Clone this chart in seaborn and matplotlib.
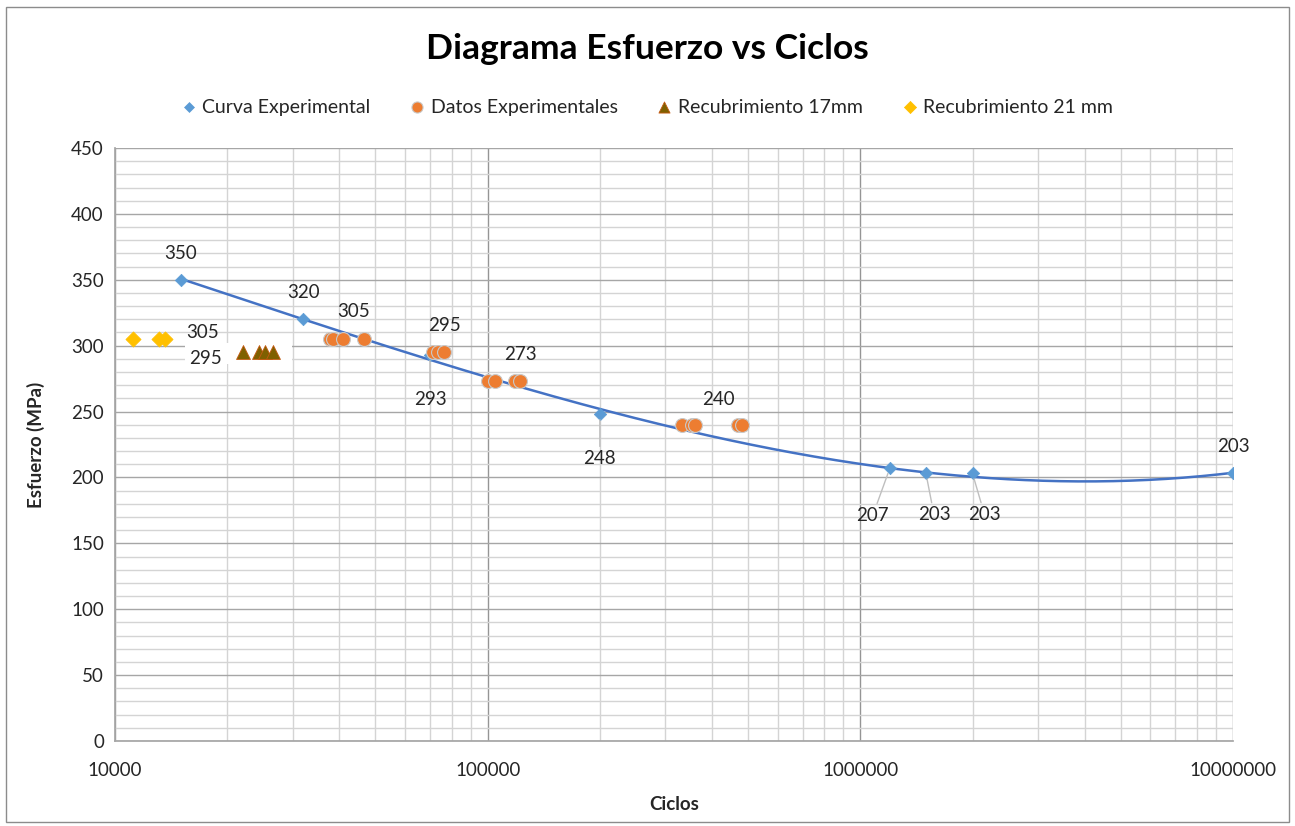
import numpy as np
import pandas as pd
import matplotlib
matplotlib.use("Agg")
import matplotlib.pyplot as plt
import seaborn as sns
from matplotlib.ticker import FixedLocator, LogLocator, NullFormatter, FuncFormatter
from matplotlib.patches import Rectangle

# --- data -----------------------------------------------------------------
curva_ciclos = [15000, 32000, 70000, 200000, 1200000, 1500000, 2000000, 10000000]
curva_esfuerzo = [350, 320, 293, 248, 207, 203, 203, 203]

datos_ciclos = [37800, 38400, 41000, 46600,
                71500, 73600, 76400,
                100400, 104600, 118400, 122100,
                331600, 352500, 359700, 470300, 480000]
datos_esfuerzo = [305, 305, 305, 305,
                  295, 295, 295,
                  273, 273, 273, 273,
                  240, 240, 240, 240, 240]

rec17_ciclos = [22000, 24300, 25300, 26500]
rec17_esfuerzo = [295, 295, 295, 295]

rec21_ciclos = [11200, 13100, 13600]
rec21_esfuerzo = [305, 305, 305]

titulo = "Diagrama Esfuerzo vs Ciclos"
etiqueta_x = "Ciclos"
etiqueta_y = "Esfuerzo (MPa)"
x_ticks = [10000, 100000, 1000000, 10000000]
y_ticks = [0, 50, 100, 150, 200, 250, 300, 350, 400, 450]

# --- style ----------------------------------------------------------------
sns.set_theme(style="white")
plt.rcParams["font.family"] = ["Lato", "DejaVu Sans"]

fig = plt.figure(figsize=(12.95, 8.26), dpi=100)
ax = fig.add_axes([115 / 1295, 1 - 741 / 826, (1233 - 115) / 1295, (741 - 148) / 826])

# outer frame of the chart
fig.patches.append(Rectangle((6 / 1295, 4 / 826), 1283 / 1295, 815 / 826,
                             transform=fig.transFigure, fill=False,
                             edgecolor="#8c8c8c", linewidth=1.0))

ax.set_xscale("log")
ax.set_xlim(10000, 10000000)
ax.set_ylim(0, 450)

# gridlines
ax.xaxis.set_major_locator(FixedLocator(x_ticks))
ax.xaxis.set_minor_locator(LogLocator(base=10, subs=np.arange(2, 10)))
ax.xaxis.set_minor_formatter(NullFormatter())
ax.xaxis.set_major_formatter(FuncFormatter(lambda v, p: f"{int(round(v))}"))
ax.yaxis.set_major_locator(FixedLocator(y_ticks))
ax.yaxis.set_minor_locator(FixedLocator(np.arange(0, 451, 10)))
ax.grid(which="major", axis="y", color="#a6a6a6", linewidth=1.0)
ax.grid(which="major", axis="x", color="#959595", linewidth=1.0)
ax.grid(which="minor", color="#d4d4d4", linewidth=1.0)
ax.set_axisbelow(True)
for side in ["top", "right"]:
    ax.spines[side].set_visible(False)
for side in ["left", "bottom"]:
    ax.spines[side].set_color("#a6a6a6")
ax.tick_params(axis="both", which="both", length=0, labelsize=13.5, colors="#262626")
ax.tick_params(axis="x", pad=15)
ax.tick_params(axis="y", pad=8)

# trend line (cubic in log10 of cycles)
coef = np.polyfit(np.log10(curva_ciclos), curva_esfuerzo, 3)
xs = np.logspace(np.log10(curva_ciclos[0]), np.log10(curva_ciclos[-1]), 300)
trend = pd.DataFrame({"ciclos": xs, "esfuerzo": np.polyval(coef, np.log10(xs))})
sns.lineplot(data=trend, x="ciclos", y="esfuerzo", ax=ax, color="#4472c4",
             linewidth=1.8, legend=False, zorder=3)

# series
curva = pd.DataFrame({"ciclos": curva_ciclos, "esfuerzo": curva_esfuerzo})
datos = pd.DataFrame({"ciclos": datos_ciclos, "esfuerzo": datos_esfuerzo})
r17 = pd.DataFrame({"ciclos": rec17_ciclos, "esfuerzo": rec17_esfuerzo})
r21 = pd.DataFrame({"ciclos": rec21_ciclos, "esfuerzo": rec21_esfuerzo})

sns.scatterplot(data=curva, x="ciclos", y="esfuerzo", ax=ax, marker="D", s=40,
                color="#5b9bd5", edgecolor="#5b9bd5", linewidth=0.5,
                label="Curva Experimental", zorder=4)
sns.scatterplot(data=datos, x="ciclos", y="esfuerzo", ax=ax, marker="o", s=100,
                color="#ed7d31", edgecolor="#c9c9c9", linewidth=0.8,
                label="Datos Experimentales", zorder=4)
sns.scatterplot(data=r17, x="ciclos", y="esfuerzo", ax=ax, marker="^", s=100,
                color="#7f6000", edgecolor="#c55a11", linewidth=0.6,
                label="Recubrimiento 17mm", zorder=4)
sns.scatterplot(data=r21, x="ciclos", y="esfuerzo", ax=ax, marker="D", s=60,
                color="#ffc000", edgecolor="#ffc000", linewidth=0.5,
                label="Recubrimiento 21 mm", zorder=4)

# data labels
lbl_kw = dict(textcoords="offset pixels", ha="center", va="center",
              fontsize=13.5, color="#262626", zorder=6)
leader = dict(arrowstyle="-", color="#bfbfbf", linewidth=1.0, shrinkA=0, shrinkB=4)

curva_offsets = [(0, 26, False), (0, 27, False), (0, -45, True), (0, -44, True),
                 (-17, -47, True), (8, -41, True), (12, -41, True), (0, 27, False)]
for x, y, (dx, dy, line) in zip(curva_ciclos, curva_esfuerzo, curva_offsets):
    ax.annotate(f"{y}", (x, y), xytext=(dx, dy),
                arrowprops=leader if line else None, **lbl_kw)

# one label per group of experimental points
for idx, (dx, dy) in {2: (10, 28), 6: (0, 27), 10: (0, 27), 15: (-23, 25)}.items():
    ax.annotate(f"{datos_esfuerzo[idx]}", (datos_ciclos[idx], datos_esfuerzo[idx]),
                xytext=(dx, dy), **lbl_kw)

ax.annotate(f"{rec21_esfuerzo[-1]}", (rec21_ciclos[-1], rec21_esfuerzo[-1]),
            xytext=(38, 7), **lbl_kw)
ax.annotate(f"{rec17_esfuerzo[0]}", (rec17_ciclos[0], rec17_esfuerzo[0]),
            xytext=(-37, -6),
            bbox=dict(boxstyle="square,pad=0.25", facecolor="white", edgecolor="none"),
            **lbl_kw)
# empty white label box sitting behind the 17 mm triangles
ax.annotate("\u2007" * 6, (rec17_ciclos[0], rec17_esfuerzo[0]), xytext=(-18, -1),
            textcoords="offset pixels", ha="left", va="center", fontsize=13.5,
            bbox=dict(boxstyle="square,pad=0.1", facecolor="white", edgecolor="none"),
            zorder=2.5)

# titles
fig.text(647 / 1295, 1 - 49 / 826, titulo, ha="center", va="center",
         fontsize=25.5, fontweight="bold", color="black")
ax.set_xlabel(etiqueta_x, fontsize=13.5, fontweight="bold", color="#262626", labelpad=12)
ax.set_ylabel(etiqueta_y, fontsize=13.5, fontweight="bold", color="#262626", labelpad=19)

# legend
leg = ax.legend(loc="center", bbox_to_anchor=(531 / 1118, 1 + 41 / 593), ncol=4,
                frameon=False, fontsize=14, handletextpad=0.2, handlelength=1.0,
                columnspacing=1.9, markerscale=0.8)
for t in leg.get_texts():
    t.set_color("#262626")

fig.savefig("out.png", dpi=100, facecolor="white")
